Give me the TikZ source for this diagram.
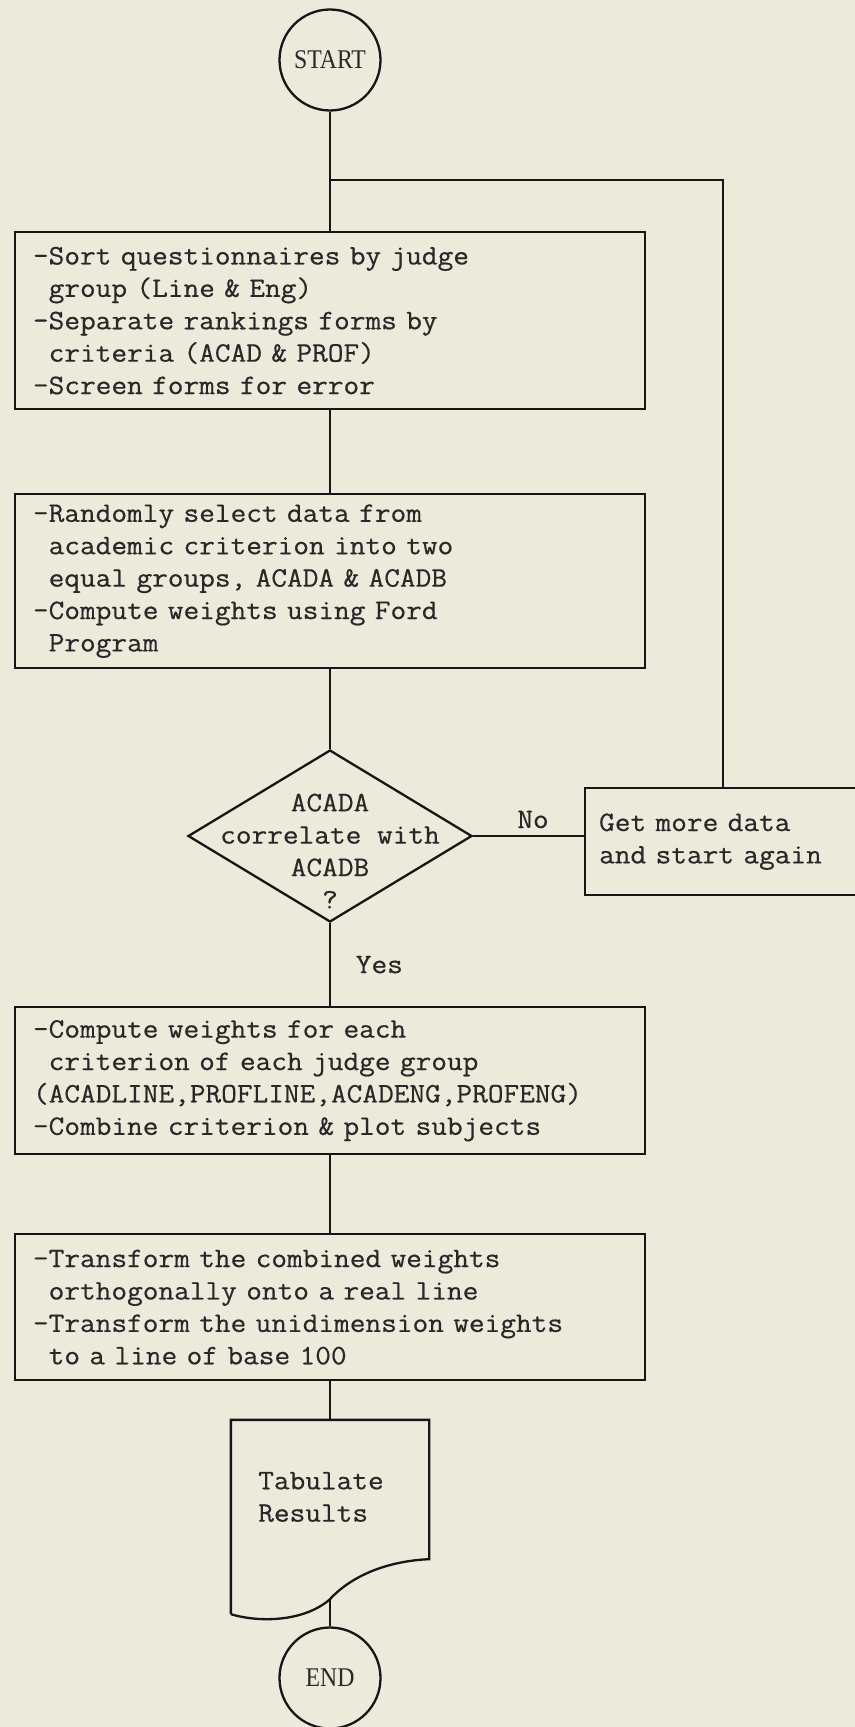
\documentclass[tikz,border=0pt]{standalone}
\usepackage{fontspec}
\usepackage{tikz}
\usetikzlibrary{positioning, shapes.geometric}
\setmonofont{Latin Modern Mono}[FakeStretch=1.08, FakeBold=0.5]
\newfontfamily\termfont[FakeStretch=0.88]{Liberation Serif}
\definecolor{paper}{RGB}{235,234,219}
\definecolor{inkline}{RGB}{22,22,22}
\definecolor{inktext}{RGB}{40,40,40}
\newcommand{\typed}{\fontsize{14.1pt}{16.2pt}\selectfont\ttfamily}
\newcommand{\indt}{\phantom{-}}

\begin{document}
\begin{tikzpicture}[x=0.5pt, y=-0.5pt, line width=1.15pt]

        % Styles
        \tikzset{
            term/.style={circle, draw=inkline, minimum size=50.5pt, inner sep=0pt, text=inktext, font=\termfont\fontsize{13.5pt}{14pt}\selectfont},
            procbox/.style={rectangle, draw=inkline, text width=297pt, inner xsep=9pt, inner ysep=0pt, align=left, text=inktext, font=\typed},
            retrybox/.style={rectangle, draw=inkline, text width=124pt, minimum height=53.5pt, inner xsep=7pt, inner ysep=0pt, align=left, text=inktext, font=\typed},
            decision/.style={diamond, draw=inkline, minimum width=142pt, minimum height=86pt, inner sep=0pt},
            docbox/.style={rectangle, minimum width=98pt, minimum height=96pt, inner sep=0pt},
            typedtext/.style={inner sep=0pt, text=inktext, font=\typed},
            tag/.style={text=inktext, font=\typed},
            connector/.style={draw=inkline}
        }

        \useasboundingbox (0,0) rectangle (855,1727);
        \clip (0,0) rectangle (855,1727);
        \fill[paper] (0,0) rectangle (855,1727);

        % --- Main column ---
        \node[term] (start) at (330,60) {START};
        \coordinate (merge) at (330,180);

        \node[procbox, minimum height=88.5pt, anchor=north] (sort) at (330,231) {-Sort questionnaires by judge\\
            \indt group (Line \& Eng)\\
            -Separate rankings forms by\\
            \indt criteria (ACAD \& PROF)\\
            -Screen forms for error};

        \node[procbox, minimum height=87pt, anchor=north] (select) at (330,493) {-Randomly select data from\\
            \indt academic criterion into two\\
            \indt equal groups, ACADA \& ACADB\\
            -Compute weights using Ford\\
            \indt Program};

        \node[decision] (decide) at (330,836) {};
        \node[typedtext, align=center] (decidetext) at (330,851) {ACADA\\correlate with\\ACADB\\?};

        \node[retrybox, anchor=north west] (retry) at (584,787) {Get more data\\and start again};

        \node[procbox, minimum height=73.5pt, anchor=north] (weigh) at (330,1006) {-Compute weights for each\\
            \indt criterion of each judge group\\
            (ACADLINE,PROFLINE,ACADENG,PROFENG)\\
            -Combine criterion \& plot subjects};

        \node[procbox, minimum height=73pt, anchor=north] (scale) at (330,1233) {-Transform the combined weights\\
            \indt orthogonally onto a real line\\
            -Transform the unidimension weights\\
            \indt to a line of base 100};

        % document symbol
        \node[docbox] (tab) at (330,1517) {};
        \draw[inkline] (tab.south west) -- (tab.north west) -- (tab.north east)
            -- ([shift={(0,-55)}]tab.south east)
            .. controls ([shift={(-43,-53)}]tab.south east) and ([shift={(-78,-38)}]tab.south east) .. ([shift={(0,-15)}]tab.south) coordinate (docfoot)
            .. controls ([shift={(-25,7)}]tab.south) and ([shift={(30,9)}]tab.south west) .. (tab.south west);
        \node[typedtext, align=left] (tabtext) at (321,1497) {Tabulate\\Results};

        \node[term] (finish) at (330,1678) {END};

        % --- Connections ---
        \draw[connector] (start) -- (sort);
        \draw[connector] (sort) -- (select);
        \draw[connector] (select) -- (decide);
        \draw[connector] (decide.east) -- node[tag, above, pos=0.54] {No} (decide.east -| retry.west);
        \draw[connector] (retry.north) |- (merge);
        \draw[connector] (decide.south) -- node[tag, right=9pt] {Yes} (weigh.north);
        \draw[connector] (weigh) -- (scale);
        \draw[connector] (scale.south) -- (tab.north);
        \draw[connector] (docfoot) -- (finish);

    \end{tikzpicture}
\end{document}
